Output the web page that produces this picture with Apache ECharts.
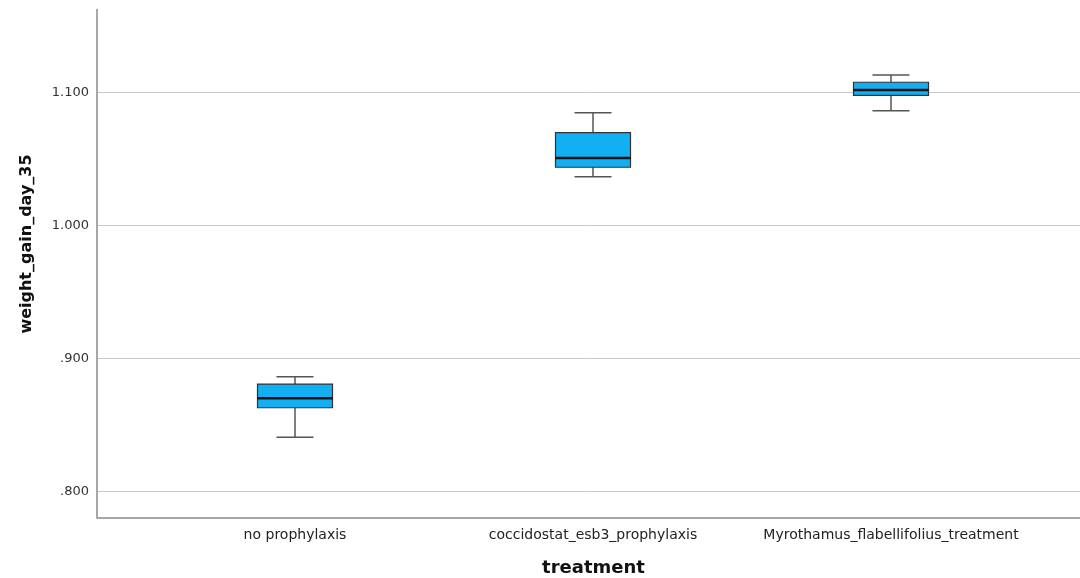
<!DOCTYPE html>
<html>
<head>
<meta charset="utf-8">
<script src="https://cdn.jsdelivr.net/npm/echarts@6/dist/echarts.min.js"></script>
<style>
  html, body { margin: 0; padding: 0; background: #fff; }
  #chart { width: 1080px; height: 578px; }
</style>
</head>
<body>
<div id="chart"></div>
<script>
// Treatment groups and five-number summaries of weight gain at day 35
const categories = ['no prophylaxis', 'coccidostat_esb3_prophylaxis', 'Myrothamus_flabellifolius_treatment'];
const whiskerLow  = [0.8408, 1.0367, 1.0863];
const quartile1   = [0.8630, 1.0438, 1.0979];
const medians     = [0.8701, 1.0508, 1.1019];
const quartile3   = [0.8808, 1.0698, 1.1077];
const whiskerHigh = [0.8863, 1.0848, 1.1132];

// Value range of the vertical axis
const yMin = 0.7805;
const yMax = 1.1624;

const FONT = 'DejaVu Sans';
const BOX_W = 75;   // box width in px
const CAP_W = 37;   // whisker cap width in px

const boxData = categories.map((c, i) => [i, whiskerLow[i], quartile1[i], medians[i], quartile3[i], whiskerHigh[i]]);

const chart = echarts.init(document.getElementById('chart'), null, { renderer: 'canvas' });

const fmt = v => {
  const s = v.toFixed(3);
  return s.startsWith('0') ? s.slice(1) : s;
};

const GRID_TOP = 9.5;
const GRID_H = 508;

function renderBox(params, api) {
  const i = api.value(0);
  const pLow = api.coord([i, api.value(1)]);
  const pQ1 = api.coord([i, api.value(2)]);
  const pMed = api.coord([i, api.value(3)]);
  const pQ3 = api.coord([i, api.value(4)]);
  const pHigh = api.coord([i, api.value(5)]);
  const x = pMed[0];
  const whisker = { stroke: '#555', lineWidth: 1.5 };
  return {
    type: 'group',
    children: [
      { type: 'line', shape: { x1: x, y1: pQ3[1], x2: x, y2: pHigh[1] }, style: whisker },
      { type: 'line', shape: { x1: x, y1: pQ1[1], x2: x, y2: pLow[1] }, style: whisker },
      { type: 'line', shape: { x1: x - CAP_W / 2, y1: pHigh[1], x2: x + CAP_W / 2, y2: pHigh[1] }, style: whisker },
      { type: 'line', shape: { x1: x - CAP_W / 2, y1: pLow[1], x2: x + CAP_W / 2, y2: pLow[1] }, style: whisker },
      {
        type: 'rect',
        shape: { x: x - BOX_W / 2, y: pQ3[1], width: BOX_W, height: pQ1[1] - pQ3[1] },
        style: { fill: '#12B0F2', stroke: '#333', lineWidth: 1.2 }
      },
      { type: 'line', shape: { x1: x - BOX_W / 2, y1: pMed[1], x2: x + BOX_W / 2, y2: pMed[1] }, style: { stroke: '#111', lineWidth: 2.5 } }
    ]
  };
}

chart.setOption({
  animation: false,
  backgroundColor: '#ffffff',
  grid: [
    // frame with axis lines and horizontal reference lines
    { left: 97, right: 0, top: GRID_TOP, height: GRID_H, outerBoundsMode: 'none', containLabel: false },
    // area where the three groups are laid out
    { left: 146, right: 40, top: GRID_TOP, height: GRID_H, outerBoundsMode: 'none', containLabel: false }
  ],
  xAxis: [
    {
      gridIndex: 0, type: 'category', data: ['a'],
      axisLine: { show: true, lineStyle: { color: '#8a8a8a', width: 1.5 } },
      axisTick: { show: false }, axisLabel: { show: false }, splitLine: { show: false }
    },
    {
      gridIndex: 1, type: 'category', data: categories,
      axisLine: { show: false }, axisTick: { show: false }, splitLine: { show: false },
      axisLabel: { fontFamily: FONT, fontSize: 14, color: '#222', margin: 11, interval: 0 }
    }
  ],
  yAxis: [
    {
      gridIndex: 0, type: 'value', min: yMin, max: yMax, splitNumber: 4,
      axisLine: { show: true, lineStyle: { color: '#8a8a8a', width: 1.5 } },
      axisTick: { show: false },
      axisLabel: {
        fontFamily: FONT, fontSize: 13, color: '#333', margin: 8,
        showMinLabel: false, showMaxLabel: false, formatter: fmt
      },
      splitLine: { show: true, showMinLine: false, showMaxLine: false, lineStyle: { color: '#c8c8c8', width: 1 } }
    },
    {
      gridIndex: 1, type: 'value', min: yMin, max: yMax, show: false,
      splitLine: { show: false }
    }
  ],
  graphic: [
    {
      type: 'text', x: 26.5, y: 244, rotation: Math.PI / 2,
      style: {
        text: 'weight_gain_day_35', fontFamily: FONT, fontWeight: 'bold', fontSize: 16,
        fill: '#111', align: 'center', verticalAlign: 'middle'
      }
    },
    {
      type: 'text', x: 593.5, y: 568,
      style: {
        text: 'treatment', fontFamily: FONT, fontWeight: 'bold', fontSize: 18,
        fill: '#111', align: 'center', verticalAlign: 'middle'
      }
    }
  ],
  series: [
    {
      type: 'custom', xAxisIndex: 1, yAxisIndex: 1,
      data: boxData,
      encode: { x: 0, y: [1, 2, 3, 4, 5] },
      renderItem: renderBox,
      z: 5
    }
  ]
});
</script>
</body>
</html>
